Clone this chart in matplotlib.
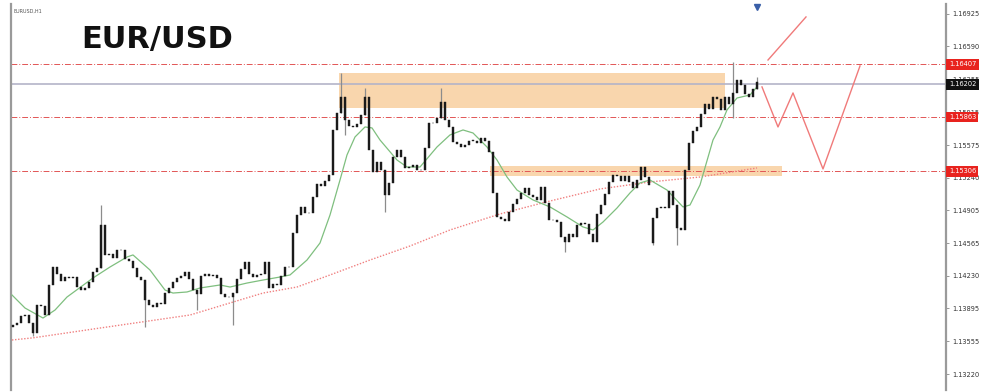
import numpy as np
import matplotlib.pyplot as plt
import matplotlib.transforms as mtransforms
from matplotlib.patches import Rectangle

# EURUSD H1 closes, one per bar
first_open = 1.13700
closes = [
    1.13724, 1.13745, 1.13817, 1.13827, 1.13745, 1.13642, 1.13930, 1.13920, 1.13827, 1.14136,
    1.14321, 1.14249, 1.14177, 1.14218, 1.14208, 1.14218, 1.14115, 1.14084, 1.14105, 1.14167,
    1.14270, 1.14311, 1.14753, 1.14445, 1.14455, 1.14414, 1.14496, 1.14496, 1.14403, 1.14383,
    1.14311, 1.14218, 1.14187, 1.13981, 1.13930, 1.13909, 1.13951, 1.13940, 1.14053, 1.14105,
    1.14167, 1.14208, 1.14228, 1.14270, 1.14198, 1.14084, 1.14043, 1.14228, 1.14249, 1.14228,
    1.14239, 1.14208, 1.14043, 1.14012, 1.14012, 1.14053, 1.14198, 1.14300, 1.14372, 1.14249,
    1.14218, 1.14239, 1.14249, 1.14372, 1.14105, 1.14146, 1.14136, 1.14228, 1.14321, 1.14321,
    1.14671, 1.14856, 1.14939, 1.14877, 1.14877, 1.15042, 1.15175, 1.15155, 1.15206, 1.15268,
    1.15731, 1.15906, 1.16071, 1.15834, 1.15772, 1.15762, 1.15793, 1.15885, 1.16071, 1.15525,
    1.15299, 1.15402, 1.15319, 1.15062, 1.15186, 1.15453, 1.15525, 1.15453, 1.15340, 1.15350,
    1.15371, 1.15319, 1.15319, 1.15546, 1.15803, 1.15803, 1.15855, 1.16019, 1.15834, 1.15762,
    1.15608, 1.15587, 1.15556, 1.15577, 1.15619, 1.15619, 1.15597, 1.15649, 1.15619, 1.15505,
    1.15083, 1.14836, 1.14815, 1.14794, 1.14887, 1.14969, 1.15021, 1.15083, 1.15134, 1.15062,
    1.15042, 1.15011, 1.15144, 1.14980, 1.14805, 1.14805, 1.14784, 1.14630, 1.14578, 1.14661,
    1.14630, 1.14753, 1.14774, 1.14764, 1.14661, 1.14578, 1.14867, 1.14959, 1.15072, 1.15196,
    1.15268, 1.15258, 1.15206, 1.15258, 1.15196, 1.15134, 1.15216, 1.15350, 1.15247, 1.15165,
    1.14825, 1.14928, 1.14939, 1.14928, 1.15103, 1.14959, 1.14722, 1.14702, 1.15319, 1.15597,
    1.15721, 1.15762, 1.15896, 1.15999, 1.15947, 1.16071, 1.16050, 1.15937, 1.16071, 1.15999,
    1.16112, 1.16246, 1.16194, 1.16102, 1.16071, 1.16153, 1.16225,
]
gap_opens = {160: 1.14568}

# bars with a visible wick
wick_idx = [5, 22, 33, 46, 55, 82, 83, 88, 93, 107, 138, 160, 166, 180, 186]
wick_hi = [1.13745, 1.14959, 1.14187, 1.14084, 1.14053, 1.16318, 1.16071, 1.16163,
           1.15319, 1.16163, 1.14630, 1.14825, 1.14959, 1.16431, 1.16277]
wick_lo = [1.13610, 1.14311, 1.13704, 1.13879, 1.13724, 1.15906, 1.15680, 1.15885,
           1.14887, 1.15855, 1.14475, 1.14548, 1.14548, 1.15855, 1.16153]

# moving averages (bar position, price)
ma_fast_x = [-0.25, 3, 7.5, 10.5, 13.5, 20, 24.25, 28.5, 30, 34.25, 38, 40, 43.5, 46.75,
             51.75, 54.25, 58.5, 62.5, 66.75, 69.25, 73.5, 76.75, 79.25, 81.75, 83.5, 85.5,
             88, 89.75, 91.75, 96, 98.5, 101.75, 106, 109.25, 112.5, 115, 118.5, 121, 123.5,
             126, 130, 134.25, 138.5, 142.5, 145, 147.5, 151, 154.25, 156.75, 159.25, 163.5,
             167.5, 169.25, 171.75, 175, 176.75, 178.5, 181, 184.25, 185.75]
ma_fast = [1.14033, 1.13899, 1.13796, 1.13878, 1.14012, 1.14208, 1.14321, 1.14424, 1.14445,
           1.14290, 1.14084, 1.14053, 1.14064, 1.14105, 1.14136, 1.14115, 1.14156, 1.14187,
           1.14218, 1.14239, 1.14393, 1.14568, 1.14856, 1.15216, 1.15474, 1.15659, 1.15762,
           1.15752, 1.15628, 1.15422, 1.15350, 1.15350, 1.15556, 1.15680, 1.15731, 1.15700,
           1.15556, 1.15422, 1.15247, 1.15113, 1.15011, 1.14939, 1.14836, 1.14733, 1.14702,
           1.14784, 1.14928, 1.15083, 1.15186, 1.15216, 1.15113, 1.14939, 1.14959, 1.15165,
           1.15628, 1.15762, 1.15937, 1.16060, 1.16091, 1.16163]
ma_slow_x = [-0.25, 5, 21.75, 44.25, 54.25, 62.5, 71, 79.25, 89.25, 99.25, 109.25, 121.75,
             134.25, 146.75, 159.25, 171.75, 186]
ma_slow = [1.13570, 1.13592, 1.13693, 1.13827, 1.13951, 1.14053, 1.14115, 1.14239, 1.14393,
           1.14537, 1.14702, 1.14867, 1.15000, 1.15124, 1.15196, 1.15247, 1.15340]

# levels and zones
red_levels = [1.16407, 1.15863, 1.15306]
last_price = 1.16202
zone_x0 = [81.5, 119.25]
zone_x1 = [178, 192.25]
zone_lo = [1.15957, 1.15258]
zone_hi = [1.16318, 1.15361]

# projected paths
proj_up_x = [188.75, 198.25]
proj_up_y = [1.16451, 1.16894]
proj_zz_x = [187.25, 191.25, 195, 202.5, 211.75]
proj_zz_y = [1.16174, 1.15762, 1.16112, 1.15330, 1.16390]

yticks = [1.16925, 1.16590, 1.16255, 1.15915, 1.15575, 1.15240,
          1.14905, 1.14565, 1.14230, 1.13895, 1.13555, 1.13220]

fig = plt.figure(figsize=(10, 3.92), dpi=100)
ax = fig.add_axes([0.011, 0.005, 0.935, 0.985])
ax.set_xlim(-0.5, 233.25)
ax.set_ylim(1.13055, 1.17028)

n = len(closes)
xs = np.arange(n)
opens = [first_open] + closes[:-1]
for k, v in gap_opens.items():
    opens[k] = v
opens = np.array(opens)
cl = np.array(closes)

# zones behind everything
for x0, x1, lo, hi in zip(zone_x0, zone_x1, zone_lo, zone_hi):
    ax.add_patch(Rectangle((x0, lo), x1 - x0, hi - lo, color='#f9cf9f', alpha=0.85, lw=0, zorder=1))

for lv in red_levels:
    ax.axhline(lv, color='#e25555', lw=0.7, ls=(0, (6, 2, 1, 2)), zorder=2)
ax.axhline(last_price, color='#b4b4c8', lw=1.2, zorder=2)

ax.plot(ma_slow_x, ma_slow, color='#f08080', lw=1.0, ls=(0, (1, 1.2)), zorder=3)
ax.plot(ma_fast_x, ma_fast, color='#7fbf7f', lw=0.9, zorder=3)

# candles
ax.vlines(wick_idx, wick_lo, wick_hi, color='#8c8c8c', lw=0.9, zorder=4)
bottoms = np.minimum(opens, cl)
heights = np.maximum(np.abs(cl - opens), 0.00004)
ax.bar(xs, heights, bottom=bottoms, width=0.72, color='#1a1a1a', ec='#1a1a1a', lw=0.3, zorder=5)

ax.plot(proj_up_x, proj_up_y, color='#f07a7a', lw=1.0, zorder=6)
ax.plot(proj_zz_x, proj_zz_y, color='#f07a7a', lw=1.0, zorder=6)

# axes styling
ax.yaxis.tick_right()
ax.set_yticks(yticks)
ax.set_yticklabels([f'{t:.5f}' for t in yticks], fontsize=4.8, color='#333333')
ax.tick_params(axis='y', length=2.5, width=0.6, color='#888888', pad=2)
ax.set_xticks([])
for s in ['top', 'bottom']:
    ax.spines[s].set_visible(False)
for s in ['left', 'right']:
    ax.spines[s].set_color('#9a9a9a')
    ax.spines[s].set_linewidth(1.6)

trans = mtransforms.blended_transform_factory(ax.transAxes, ax.transData)
for lv in red_levels:
    ax.text(1.003, lv, f'{lv:.5f}', transform=trans, fontsize=4.8, color='white', va='center',
            ha='left', bbox=dict(boxstyle='square,pad=0.35', fc='#e8231e', ec='none'), zorder=10)
ax.text(1.003, last_price, f'{last_price:.5f}', transform=trans, fontsize=4.8, color='white',
        va='center', ha='left', bbox=dict(boxstyle='square,pad=0.35', fc='#111111', ec='none'),
        zorder=10)

tmark = mtransforms.blended_transform_factory(ax.transData, ax.transAxes)
ax.plot([186], [0.993], marker='v', ms=4, color='#3a5fa8', transform=tmark, clip_on=False)

fig.text(0.014, 0.972, 'EURUSD,H1', fontsize=3.5, color='#555555', va='center')
fig.text(0.081, 0.877, 'EUR/USD', fontsize=22, fontweight='bold', color='#111111', va='baseline')

fig.savefig('out.png', dpi=100)
